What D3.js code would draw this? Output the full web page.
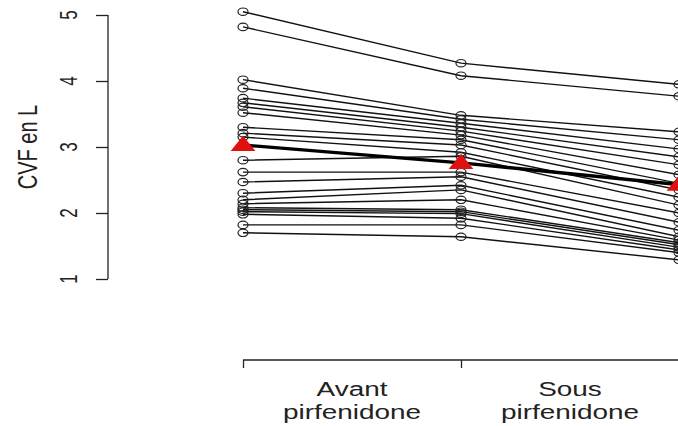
<!DOCTYPE html>
<html>
<head>
<meta charset="utf-8">
<script src="https://cdn.jsdelivr.net/npm/d3@7"></script>
<style>
  body { margin: 0; background: #fff; }
  text { font-family: "Liberation Sans", Arial, sans-serif; fill: #222; }
</style>
</head>
<body>
<div id="vis_result"></div>
<script>
// CVF (L) per patient at each time point
var times = [1, 2, 3]
var timeLabels = [['Avant', 'pirfenidone'], ['Sous', 'pirfenidone']]   // third label falls outside the picture
var avant = [5.05, 4.82, 4.02, 3.89, 3.74, 3.67, 3.61, 3.52, 3.30, 3.21, 3.15, 2.80, 2.62, 2.47, 2.30, 2.20, 2.14, 2.08, 2.05, 2.02, 1.98, 1.82, 1.70]
var sous = [4.27, 4.08, 3.48, 3.42, 3.36, 3.30, 3.24, 3.18, 3.11, 3.03, 2.92, 2.86, 2.62, 2.55, 2.42, 2.35, 2.20, 2.05, 2.02, 1.99, 1.92, 1.82, 1.64]
var apres = [3.95, 3.77, 3.23, 3.11, 2.97, 2.85, 2.73, 2.58, 2.45, 2.35, 2.24, 2.12, 2.00, 1.86, 1.74, 1.64, 1.59, 1.55, 1.52, 1.48, 1.44, 1.40, 1.29]
var moyenne = [3.03, 2.76, 2.43]
var yTicks = [1, 2, 3, 4, 5]

var width = 678, height = 426
var stretch = 1.4   // picture is wider than tall

var svg = d3.select('#vis_result').append('svg')
    .attr('width', width).attr('height', height)

var x = d3.scaleLinear().domain([1, 3]).range([243, 679])
var y = d3.scaleLinear().domain([1, 5]).range([279, 15])

// one row per patient
var patients = avant.map(function (v, i) { return [v, sous[i], apres[i]] })

var line = d3.line()
    .x(function (d, i) { return x(times[i]) })
    .y(function (d) { return y(d) })

svg.selectAll('.patient')
    .data(patients)
    .enter()
    .append('path')
    .attr('class', 'patient')
    .attr('d', line)
    .attr('fill', 'none')
    .attr('stroke', '#111')
    .attr('stroke-width', 1.4)

patients.forEach(function (p) {
    svg.selectAll(null)
        .data(p)
        .enter()
        .append('ellipse')
        .attr('cx', function (d, i) { return x(times[i]) })
        .attr('cy', function (d) { return y(d) })
        .attr('rx', 5)
        .attr('ry', 3.7)
        .attr('fill', 'none')
        .attr('stroke', '#222')
        .attr('stroke-width', 1.2)
})

// mean line
svg.append('path')
    .attr('d', line(moyenne))
    .attr('fill', 'none')
    .attr('stroke', '#000')
    .attr('stroke-width', 3.4)

var tri = d3.symbol().type(d3.symbolTriangle).size(135)
svg.selectAll('.moy')
    .data(moyenne)
    .enter()
    .append('path')
    .attr('class', 'moy')
    .attr('d', tri)
    .attr('transform', function (d, i) { return 'translate(' + x(times[i]) + ',' + (y(d) + 1) + ') scale(' + stretch + ',1)' })
    .attr('fill', '#e01010')

// y axis
var yAxis = svg.append('g').attr('transform', 'translate(108,0)')
    .call(d3.axisLeft(y).tickValues(yTicks).tickSize(12).tickFormat(''))
yAxis.select('.domain').attr('d', 'M0,' + y(1) + 'V' + y(5)).attr('stroke', '#222').attr('stroke-width', 1.3)
yAxis.selectAll('line').attr('stroke', '#222').attr('stroke-width', 1.3)

svg.selectAll('.ylab')
    .data(yTicks)
    .enter()
    .append('text')
    .attr('class', 'ylab')
    .attr('transform', function (d) { return 'translate(77,' + y(d) + ') scale(' + stretch + ',1) rotate(-90)' })
    .attr('text-anchor', 'middle')
    .style('font-size', '17px')
    .text(function (d) { return d })

svg.append('text')
    .attr('transform', 'translate(37,147) scale(' + stretch + ',1) rotate(-90)')
    .attr('text-anchor', 'middle')
    .style('font-size', '20px')
    .text('CVF en L')

// x axis: ticks at time points, labels between
var xAxis = svg.append('g').attr('transform', 'translate(0,360)')
    .call(d3.axisBottom(x).tickValues(times).tickSize(8).tickFormat(''))
xAxis.select('.domain').attr('d', 'M' + x(1) + ',0H' + x(3)).attr('stroke', '#222').attr('stroke-width', 1.3)
xAxis.selectAll('line').attr('stroke', '#222').attr('stroke-width', 1.3)

timeLabels.forEach(function (lab, i) {
    var t = svg.append('text')
        .attr('transform', 'translate(' + x(times[i] + 0.5) + ',0) scale(1.33,1)')
        .attr('text-anchor', 'middle')
        .style('font-size', '21px')
    t.append('tspan').attr('x', 0).attr('y', 396).text(lab[0])
    t.append('tspan').attr('x', 0).attr('y', 419).text(lab[1])
})
</script>
</body>
</html>
